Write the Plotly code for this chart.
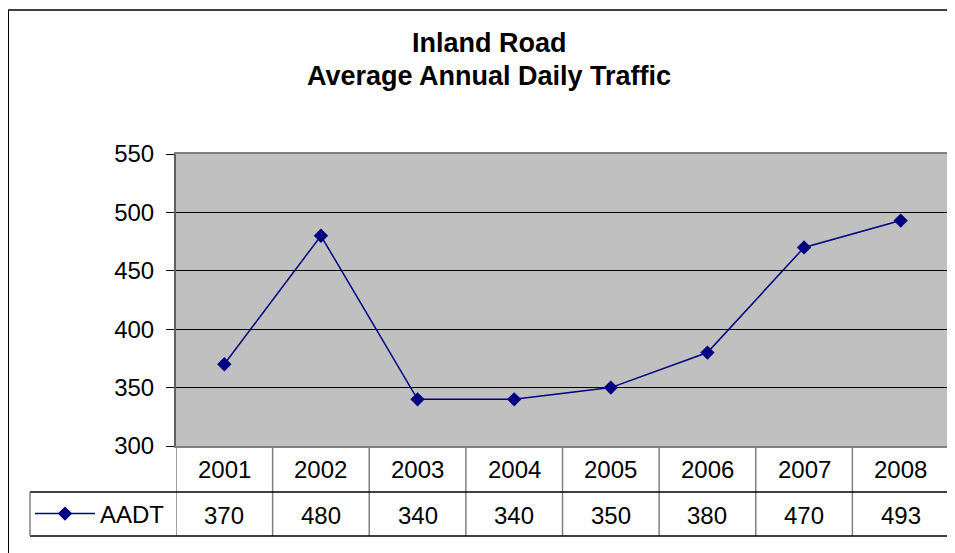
import plotly.graph_objects as go

years = ["2001", "2002", "2003", "2004", "2005", "2006", "2007", "2008"]
aadt = [370, 480, 340, 340, 350, 380, 470, 493]
series_name = "AADT"
title_lines = ["Inland Road", "Average Annual Daily Traffic"]
y_ticks = [300, 350, 400, 450, 500, 550]

W, H = 955, 553
OFF = 8  # page body margin
def px(x): return (x - OFF) / W
def py(y): return 1 - (y - OFF) / H

FONT = "Arial, Liberation Sans, sans-serif"
NAVY = "#000080"
GRAY = "#808080"

x_idx = list(range(len(years)))

fig = go.Figure()
fig.add_trace(go.Scatter(
    x=x_idx, y=aadt, mode="lines+markers", name=series_name,
    line=dict(color=NAVY, width=1.5),
    marker=dict(symbol="diamond", size=11, color=NAVY),
    cliponaxis=False,
))

plot_l, plot_r, plot_t, plot_b = 176, 949, 154, 446
row1_b, row2_b, tbl_l = 492, 536, 30

shapes = []
shapes.append(dict(type="line", xref="paper", yref="paper", x0=px(8), x1=1.02, y0=py(10), y1=py(10),
                   line=dict(color="black", width=1.5)))
shapes.append(dict(type="line", xref="paper", yref="paper", x0=px(8), x1=px(8), y0=py(10), y1=-0.02,
                   line=dict(color="black", width=2)))
for i in range(len(years) + 1):
    shapes.append(dict(type="line", xref="x", yref="paper", x0=i - 0.5, x1=i - 0.5,
                       y0=py(plot_b), y1=py(row2_b), line=dict(color=GRAY, width=1.5)))
for yy in (row1_b, row2_b):
    shapes.append(dict(type="line", xref="paper", yref="paper", x0=px(tbl_l), x1=px(plot_r),
                       y0=py(yy), y1=py(yy), line=dict(color="black", width=1.5)))
shapes.append(dict(type="line", xref="paper", yref="paper", x0=px(tbl_l), x1=px(tbl_l),
                   y0=py(row1_b), y1=py(row2_b), line=dict(color=GRAY, width=1.5)))
shapes.append(dict(type="line", xref="paper", yref="paper", x0=px(plot_r), x1=px(plot_r),
                   y0=py(plot_b), y1=py(plot_t), line=dict(color=GRAY, width=2)))

annotations = []
for k, t in enumerate(title_lines):
    annotations.append(dict(text="<b>%s</b>" % t, xref="paper", yref="paper", x=px(489),
                            y=py([43, 76][k]), showarrow=False, xanchor="center", yanchor="middle",
                            font=dict(family=FONT, size=27, color="black")))
for i, yr in enumerate(years):
    annotations.append(dict(text=yr, xref="x", yref="paper", x=i, y=py(469), showarrow=False,
                            xanchor="center", yanchor="middle", font=dict(family=FONT, size=24, color="black")))
    annotations.append(dict(text=str(aadt[i]), xref="x", yref="paper", x=i, y=py(515), showarrow=False,
                            xanchor="center", yanchor="middle", font=dict(family=FONT, size=24, color="black")))

fig.update_layout(
    width=W, height=H,
    margin=dict(l=0, r=0, t=0, b=0, autoexpand=False),
    paper_bgcolor="white",
    plot_bgcolor="#C0C0C0",
    showlegend=True,
    legend=dict(x=px(30), y=py(514), xanchor="left", yanchor="middle",
                font=dict(family=FONT, size=24, color="black"),
                bgcolor="rgba(0,0,0,0)", borderwidth=0, itemwidth=60),
    xaxis=dict(domain=[px(plot_l), px(plot_r)], range=[-0.5, len(years) - 0.5], automargin=False,
               showgrid=False, zeroline=False, showticklabels=False, ticks="",
               showline=True, linecolor=GRAY, linewidth=1.5, mirror=True),
    yaxis=dict(domain=[py(plot_b), py(plot_t)], range=[300, 550], tickvals=y_ticks, automargin=False,
               showgrid=True, gridcolor="black", gridwidth=1, zeroline=False,
               ticks="outside", ticklen=8, tickcolor="black", tickwidth=1, ticklabelstandoff=7,
               showline=True, linecolor="#606060", linewidth=2, mirror=False,
               tickfont=dict(family=FONT, size=24, color="black")),
    shapes=shapes,
    annotations=annotations,
)

fig.write_html("out.html")
